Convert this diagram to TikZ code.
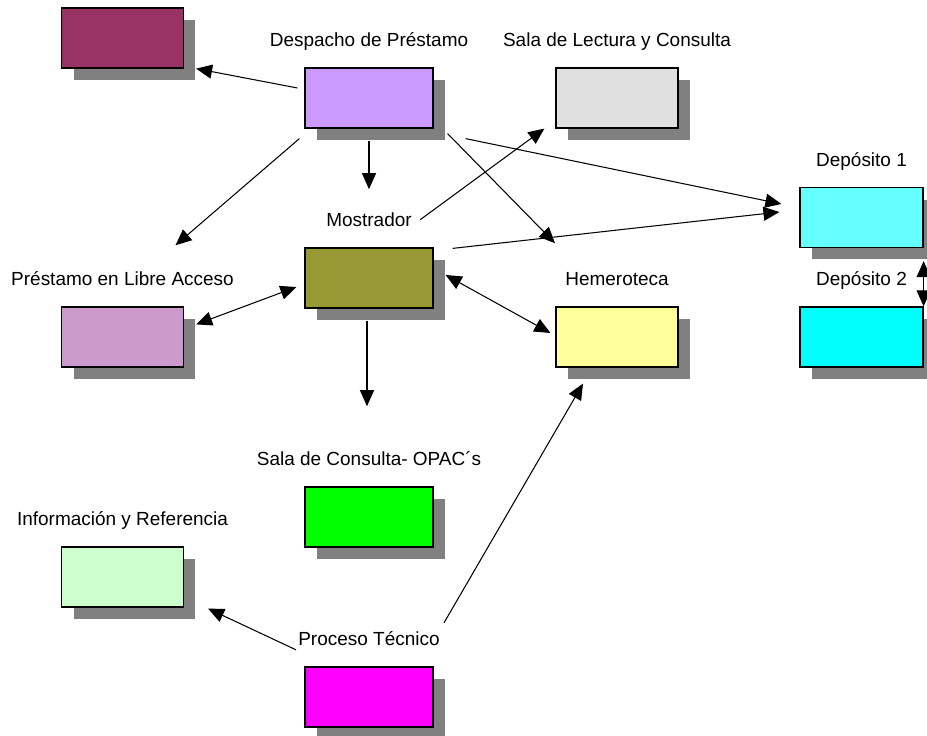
\documentclass[tikz,border=0pt]{standalone}
\usepackage{fontspec}
\setmainfont{Liberation Sans}
\usetikzlibrary{positioning,shadows,arrows.meta}

\definecolor{cMaroon}{HTML}{993366}
\definecolor{cLavender}{HTML}{CC99FF}
\definecolor{cLightGray}{HTML}{E0E0E0}
\definecolor{cAqua}{HTML}{66FFFF}
\definecolor{cOlive}{HTML}{999933}
\definecolor{cPlum}{HTML}{CC99CC}
\definecolor{cLightYellow}{HTML}{FFFF99}
\definecolor{cCyan}{HTML}{00FFFF}
\definecolor{cGreen}{HTML}{00FF00}
\definecolor{cMint}{HTML}{CCFFCC}
\definecolor{cMagenta}{HTML}{FF00FF}
\definecolor{cShadow}{HTML}{808080}

\begin{document}
\begin{tikzpicture}[
        x=0.02cm, y=-0.02cm,
        box/.style={rectangle, draw, line width=0.7pt, minimum width=2.44cm, minimum height=1.2cm,
            drop shadow={shadow xshift=0.24cm, shadow yshift=-0.24cm, fill=cShadow, opacity=1}},
        widebox/.style={box, minimum width=2.56cm},
        lbl/.style={font=\fontsize{10.8}{13}\selectfont, inner sep=0pt, text height=8pt, text depth=2.5pt},
        tip/.tip={Triangle[length=0.32cm, width=0.28cm]},
        arrow/.style={-tip, line width=0.6pt},
        dblarrow/.style={tip-tip, line width=0.6pt}
    ]
        \useasboundingbox (0,0) rectangle (927,736);

        % Boxes
        \node[box, fill=cMaroon] (maroon) at (122.5,38) {};
        \node[widebox, fill=cLavender] (despacho) at (369,98) {};
        \node[box, fill=cLightGray] (lectura) at (617,98) {};
        \node[box, fill=cAqua, minimum width=2.46cm] (dep1) at (861.5,217.5) {};
        \node[widebox, fill=cOlive] (mostrador) at (369,278) {};
        \node[box, fill=cPlum] (prestamo) at (122.5,337) {};
        \node[box, fill=cLightYellow] (hemeroteca) at (617,337) {};
        \node[box, fill=cCyan, minimum width=2.46cm] (dep2) at (861.5,337) {};
        \node[widebox, fill=cGreen] (opac) at (369,517) {};
        \node[box, fill=cMint] (info) at (122.5,577) {};
        \node[widebox, fill=cMagenta] (proceso) at (369,697) {};

        % Labels
        \node[lbl, above=0.32cm of despacho] (despacholbl) {Despacho de Préstamo};
        \node[lbl, above=0.32cm of lectura] (lecturalbl) {Sala de Lectura y Consulta};
        \node[lbl, above=0.32cm of dep1] (dep1lbl) {Depósito 1};
        \node[lbl, above=0.32cm of mostrador] (mostradorlbl) {Mostrador};
        \node[lbl, above=0.32cm of prestamo] (prestamolbl) {Préstamo en Libre Acceso};
        \node[lbl, above=0.32cm of hemeroteca] (hemerolbl) {Hemeroteca};
        \node[lbl, above=0.32cm of dep2] (dep2lbl) {Depósito 2};
        \node[lbl, above=0.32cm of opac] (opaclbl) {Sala de Consulta- OPAC´s};
        \node[lbl, above=0.32cm of info] (infolbl) {Información y Referencia};
        \node[lbl, above=0.32cm of proceso] (procesolbl) {Proceso Técnico};

        % Arrows
        \draw[arrow] ([shift={(-7,-10)}]despacho.west) -- ([shift={(12,0)}]maroon.south east);
        \draw[arrow] ([shift={(0,12)}]despacho.south) -- ([shift={(0,-23)}]mostradorlbl.north);
        \draw[arrow] ([shift={(-5,10)}]despacho.south west) -- ([shift={(53,-26)}]prestamolbl.north);
        \draw[arrow] ([shift={(14,5)}]despacho.south east) -- ([shift={(-62,-28)}]hemerolbl.north);
        \draw[arrow] ([shift={(32,10)}]despacho.south east) -- ([shift={(-18,-13.5)}]dep1.west);
        \draw[arrow] ([shift={(8,-2)}]mostradorlbl.east) -- ([shift={(-11,0)}]lectura.south west);
        \draw[arrow] ([shift={(19,1)}]mostrador.north east) -- ([shift={(-20,-5.5)}]dep1.west);
        \draw[dblarrow] ([shift={(12,18)}]prestamo.north east) -- ([shift={(-8,9)}]mostrador.west);
        \draw[dblarrow] ([shift={(12,-3)}]mostrador.east) -- ([shift={(-5,-4)}]hemeroteca.west);
        \draw[arrow] ([shift={(-2,12)}]mostrador.south) -- ([shift={(-2,-45)}]opaclbl.north);
        \draw[dblarrow] ([shift={(0,13)}]dep1.south east) -- (dep2.north east);
        \draw[arrow] ([shift={(4,-18)}]procesolbl.east) -- ([shift={(-34,16)}]hemeroteca.south);
        \draw[arrow] ([shift={(-2,9)}]procesolbl.west) -- ([shift={(24,1)}]info.south east);
    \end{tikzpicture}
\end{document}
